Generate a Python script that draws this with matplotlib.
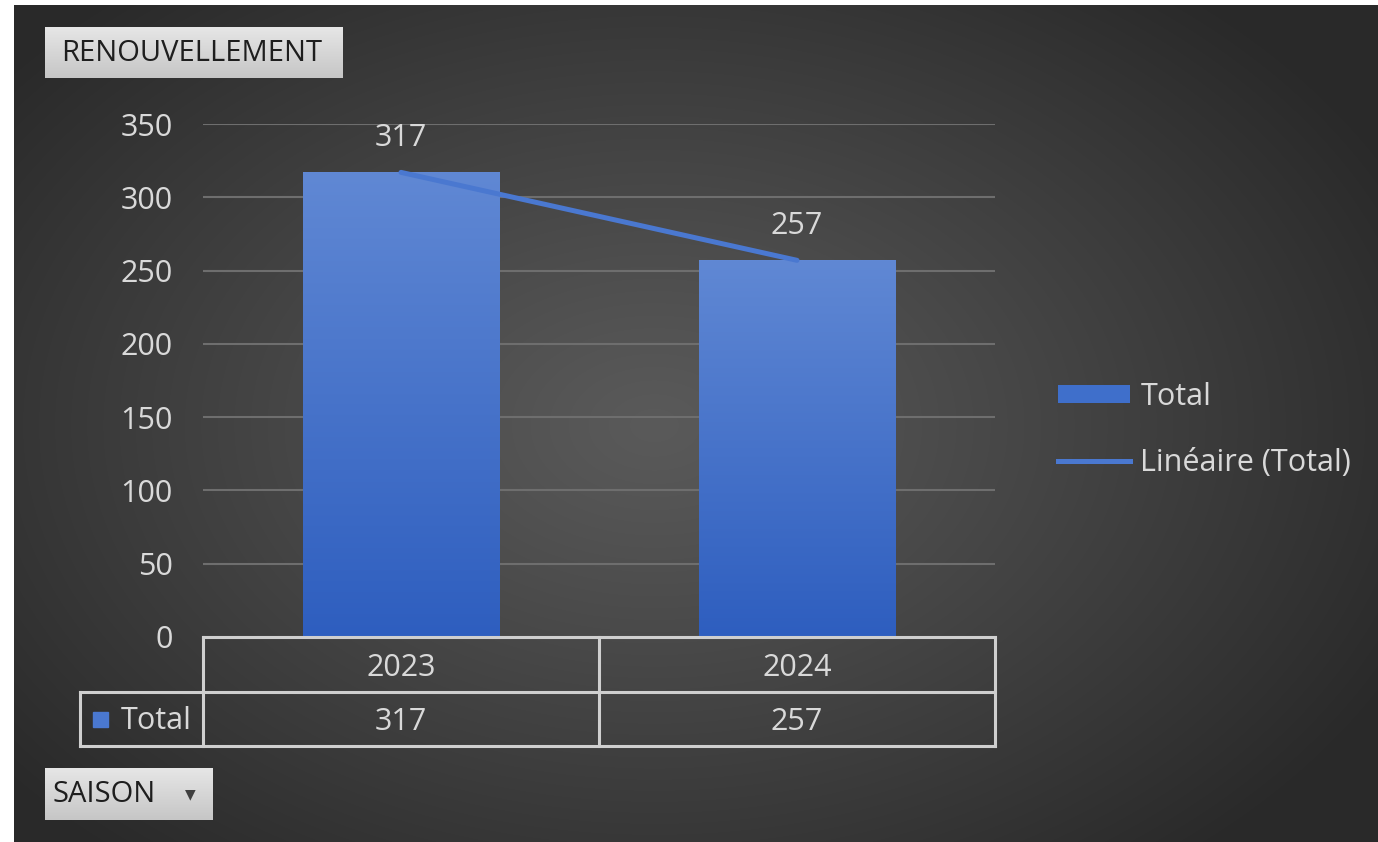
import numpy as np
import matplotlib
matplotlib.use("Agg")
import matplotlib.pyplot as plt
from matplotlib.patches import Rectangle
from matplotlib.lines import Line2D
import matplotlib.transforms as mtransforms

plt.rcParams['font.family'] = ['Open Sans', 'DejaVu Sans']

# ---- data ----
categories = ["2023", "2024"]
totals = [317, 257]
yticks = [0, 50, 100, 150, 200, 250, 300, 350]
series_name = "Total"
trend_name = "Linéaire (Total)"
title_button = "RENOUVELLEMENT"
field_button = "SAISON"

W, H = 1378, 842
fig = plt.figure(figsize=(W / 100, H / 100), dpi=100)
fig.patch.set_facecolor("white")

def fx(px):
    return px / W

def fy(py):
    return 1 - py / H

# ---- background radial gradient ----
bg = fig.add_axes([fx(14), 0, 1 - fx(14), 1 - 5 / H], zorder=-10)
bw, bh = W - 14, H - 5
yy, xx = np.mgrid[0:bh, 0:bw]
cx, cy = 640, 420
r = np.sqrt(((xx - cx) / 820.0) ** 2 + ((yy - cy) / 560.0) ** 2)
r = np.clip(r, 0, 1)
v = (0x5a - (0x5a - 0x2a) * r ** 1.1) / 255.0
img = np.dstack([v, v, v])
bg.imshow(img, aspect="auto", extent=[0, 1, 0, 1], origin="upper")
bg.set_axis_off()

# ---- main axes ----
left, right = 203, 995
top, bottom = 124, 637
ax = fig.add_axes([fx(left), fy(bottom), fx(right) - fx(left), (bottom - top) / H])
ax.set_facecolor("none")
x = np.arange(len(categories))

txtc = "#d9d9d9"
fs = 22

bars = ax.bar(x, totals, width=0.495, color="#4472c4", zorder=3, label=series_name)
grad = np.linspace(0, 1, 256).reshape(-1, 1)
c_top = np.array([0x60, 0x88, 0xd4]) / 255.0
c_bot = np.array([0x2e, 0x5e, 0xbf]) / 255.0
gimg = c_top[None, None, :] * (1 - grad[:, :, None]) + c_bot[None, None, :] * grad[:, :, None]
for b in bars:
    b.set_facecolor("none")
    bx, by, bwid, bht = b.get_x(), b.get_y(), b.get_width(), b.get_height()
    im = ax.imshow(gimg, extent=[bx, bx + bwid, by, by + bht], aspect="auto",
                   origin="upper", zorder=3)
    im.set_clip_path(b)
ax.set_xlim(-0.5, len(categories) - 0.5)
ax.set_ylim(0, 350)

# trend line (linear fit)
coef = np.polyfit(x, totals, 1)
trend = np.polyval(coef, x)
ax.plot(x, trend, color="#4a78d0", lw=3.6, zorder=4, solid_capstyle="round", label=trend_name)

# data labels
for xi, val in zip(x, totals):
    ax.annotate(str(val), (xi, val), xytext=(0, 25), textcoords="offset points",
                ha="center", va="center", color=txtc, fontsize=fs, zorder=5)

# grid
ax.set_yticks(yticks)
ax.yaxis.grid(True, color="#6e6e6e", lw=1.5, zorder=0)
ax.set_xticks([])
ax.tick_params(axis="y", length=0, pad=22, labelcolor=txtc, labelsize=fs)
for s in ax.spines.values():
    s.set_visible(False)

# ---- data table ----
tc = "#cfcfcf"
tlw = 2.2
trans = mtransforms.blended_transform_factory(ax.transData, ax.transAxes)
ph = bottom - top
r1 = -(692 - bottom) / ph
r2 = -(746 - bottom) / ph
hx = -0.5 + (80 - left) / (right - left) * len(categories)
xl, xr = -0.5, len(categories) - 0.5
segs = [
    ([xl, xr], [0, 0]),
    ([hx, xr], [r1, r1]),
    ([hx, xr], [r2, r2]),
    ([hx, hx], [r1, r2]),
]
for i in range(len(categories) + 1):
    segs.append(([xl + i, xl + i], [0, r2]))
for xs, ys in segs:
    ax.add_line(Line2D(xs, ys, color=tc, lw=tlw, transform=trans, clip_on=False, zorder=6))
dy = -3 / ph
for xi, cat, val in zip(x, categories, totals):
    ax.text(xi, r1 / 2 + dy, cat, transform=trans, ha="center", va="center", color=txtc, fontsize=fs)
    ax.text(xi, (r1 + r2) / 2 + dy, str(val), transform=trans, ha="center", va="center",
            color=txtc, fontsize=fs)
fig.patches.append(Rectangle((fx(93), fy(727)), fx(15), 15 / H, transform=fig.transFigure,
                             color="#4a78d0"))
fig.text(fx(121), fy(721), series_name, ha="left", va="center", color=txtc, fontsize=fs)

# ---- legend ----
handles = [Rectangle((0, 0), 1, 1, facecolor="#3f6fcb", edgecolor="none"),
           Line2D([], [], color="#4a78d0", lw=3.6)]
leg = fig.legend(handles, [series_name, trend_name], loc="upper left",
                 bbox_to_anchor=(fx(1058), fy(382)), frameon=False, fontsize=fs,
                 labelcolor=txtc, handlelength=2.35, handleheight=0.55,
                 handletextpad=0.35, labelspacing=1.17, borderpad=0, borderaxespad=0)

# ---- buttons ----
def button(x0, y0, x1, y1, text, tx, arrow=False):
    bax = fig.add_axes([fx(x0), fy(y1), fx(x1) - fx(x0), (y1 - y0) / H], zorder=8)
    g = np.linspace(0, 1, 64).reshape(-1, 1)
    ct = np.array([0xe6, 0xe6, 0xe6]) / 255.0
    cb = np.array([0xc6, 0xc6, 0xc6]) / 255.0
    gi = ct[None, None, :] * (1 - g[:, :, None]) + cb[None, None, :] * g[:, :, None]
    bax.imshow(gi, aspect="auto", extent=[0, 1, 0, 1], origin="upper")
    bax.set_xlim(0, 1)
    bax.set_ylim(0, 1)
    bax.set_axis_off()
    fig.text(fx(tx), fy((y0 + y1) / 2 + 1), text, ha="left", va="center",
             color="#1e1e1e", fontsize=fs - 1, zorder=9)
    if arrow:
        fig.text(fx(x1 - 23), fy((y0 + y1) / 2), "▼", ha="center", va="center",
                 color="#404040", fontsize=10, zorder=9, family="DejaVu Sans")

button(45, 27, 343, 78, title_button, 61)
button(45, 768, 213, 820, field_button, 52, arrow=True)

fig.savefig("out.png", dpi=100, facecolor=fig.get_facecolor())
